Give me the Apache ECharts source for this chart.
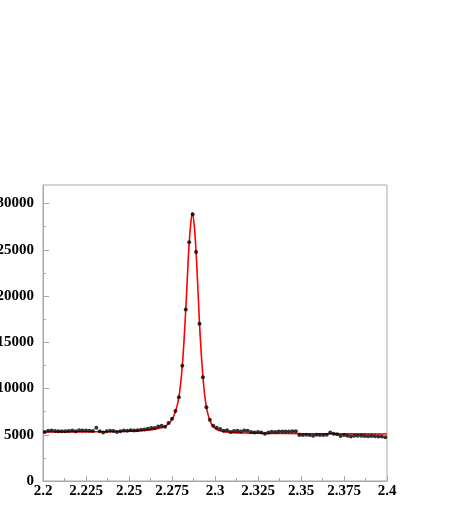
<!DOCTYPE html>
<html>
<head>
<meta charset="utf-8">
<style>
  html, body { margin: 0; padding: 0; background: #fff; }
  #chart { width: 463px; height: 518px; }
</style>
<script src="https://cdn.jsdelivr.net/npm/echarts@6/dist/echarts.min.js"></script>
</head>
<body>
<div id="chart"></div>
<script>
// bin centres of the histogram (width 0.002)
const binCenters = [
  2.201, 2.203, 2.205, 2.207, 2.209, 2.211, 2.213, 2.215, 2.217, 2.219,
  2.221, 2.223, 2.225, 2.227, 2.229, 2.231, 2.233, 2.235, 2.237, 2.239,
  2.241, 2.243, 2.245, 2.247, 2.249, 2.251, 2.253, 2.255, 2.257, 2.259,
  2.261, 2.263, 2.265, 2.267, 2.269, 2.271, 2.273, 2.275, 2.277, 2.279,
  2.281, 2.283, 2.285, 2.287, 2.289, 2.291, 2.293, 2.295, 2.297, 2.299,
  2.301, 2.303, 2.305, 2.307, 2.309, 2.311, 2.313, 2.315, 2.317, 2.319,
  2.321, 2.323, 2.325, 2.327, 2.329, 2.331, 2.333, 2.335, 2.337, 2.339,
  2.341, 2.343, 2.345, 2.347, 2.349, 2.351, 2.353, 2.355, 2.357, 2.359,
  2.361, 2.363, 2.365, 2.367, 2.369, 2.371, 2.373, 2.375, 2.377, 2.379,
  2.381, 2.383, 2.385, 2.387, 2.389, 2.391, 2.393, 2.395, 2.397, 2.399
]
const counts = [
  5300, 5420, 5460, 5400, 5380, 5390, 5370, 5400, 5450, 5380,
  5480, 5460, 5450, 5430, 5410, 5750, 5380, 5250, 5380, 5420,
  5400, 5290, 5370, 5450, 5420, 5480, 5450, 5500, 5530, 5560,
  5640, 5720, 5720, 5900, 5970, 5860, 6260, 6720, 7570, 9060,
  12450, 18545, 25800, 28850, 24750, 16990, 11220, 7985, 6615, 5970,
  5750, 5610, 5430, 5500, 5290, 5400, 5430, 5360, 5460, 5430,
  5290, 5250, 5290, 5250, 5110, 5250, 5320, 5300, 5350, 5340,
  5360, 5350, 5380, 5390, 4980, 4960, 5000, 4980, 4900, 4990,
  4970, 4960, 5000, 5250, 5120, 5050, 4870, 4960, 4900, 4820,
  4900, 4880, 4880, 4870, 4850, 4860, 4840, 4820, 4810, 4730
]

// fit curve
const fitX = [
  2.200, 2.210, 2.220, 2.230, 2.240, 2.250, 2.255, 2.260, 2.265, 2.268,
  2.270, 2.272, 2.274, 2.275, 2.276, 2.277, 2.278, 2.279, 2.280, 2.281,
  2.282, 2.283, 2.284, 2.285, 2.286, 2.2868, 2.288, 2.289, 2.290, 2.291,
  2.292, 2.293, 2.294, 2.295, 2.296, 2.297, 2.298, 2.299, 2.300, 2.302,
  2.305, 2.310, 2.320, 2.330, 2.350, 2.375, 2.400
]
const fitY = [
  5300, 5300, 5310, 5320, 5340, 5380, 5420, 5480, 5600, 5720,
  5800, 6050, 6400, 6650, 7000, 7550, 8150, 9060, 10500, 12470,
  15200, 18545, 22300, 25800, 28000, 29000, 27500, 24750, 21000, 16990,
  13800, 11220, 9300, 7985, 7150, 6615, 6150, 5900, 5700, 5480,
  5330, 5230, 5180, 5150, 5120, 5100, 5080
]

const yMajorTicks = [0, 5000, 10000, 15000, 20000, 25000, 30000]
const yMinorTicks = [2500, 7500, 12500, 17500, 22500, 27500]

const axisGrey = '#a8a8a8'
const labelFont = {
  fontFamily: 'Liberation Serif',
  fontWeight: 'bold',
  fontSize: 15,
  color: '#000'
}

const chart = echarts.init(document.getElementById('chart'), null, { renderer: 'canvas' })

chart.setOption({
  animation: false,
  backgroundColor: '#fff',
  grid: {
    left: 43,
    top: 185,
    right: 76,
    bottom: 37,
    containLabel: false,
    outerBoundsMode: 'none',
    show: true,
    borderColor: axisGrey,
    borderWidth: 1,
    backgroundColor: 'transparent'
  },
  xAxis: {
    type: 'value',
    min: 2.2,
    max: 2.4,
    interval: 0.025,
    axisLine: { show: true, lineStyle: { color: axisGrey, width: 1 } },
    axisTick: { show: true, inside: true, length: 5, lineStyle: { color: axisGrey } },
    minorTick: { show: true, splitNumber: 2, length: 3, lineStyle: { color: axisGrey } },
    splitLine: { show: false },
    axisLabel: {
      ...labelFont,
      margin: 3,
      formatter: v => String(+v.toFixed(3))
    }
  },
  yAxis: [
    {
      type: 'value',
      min: 0,
      max: 32000,
      axisLine: { show: true, lineStyle: { color: axisGrey, width: 1 } },
      axisTick: {
        show: true, inside: true, length: 6,
        customValues: yMajorTicks,
        lineStyle: { color: axisGrey }
      },
      splitLine: { show: false },
      axisLabel: {
        ...labelFont,
        margin: 9,
        customValues: yMajorTicks,
        formatter: v => String(v)
      }
    },
    {
      type: 'value',
      min: 0,
      max: 32000,
      position: 'left',
      axisLine: { show: false },
      axisTick: {
        show: true, inside: true, length: 3,
        customValues: yMinorTicks,
        lineStyle: { color: axisGrey }
      },
      splitLine: { show: false },
      axisLabel: { show: false }
    }
  ],
  series: [
    {
      name: 'fit',
      type: 'line',
      data: fitX.map((x, i) => [x, fitY[i]]),
      smooth: 0.3,
      symbol: 'none',
      lineStyle: { color: '#ff0000', width: 1.6 },
      z: 2
    },
    {
      name: 'data',
      type: 'scatter',
      data: binCenters.map((x, i) => [x, counts[i]]),
      symbol: 'circle',
      symbolSize: 4,
      itemStyle: { color: '#000' },
      z: 3
    }
  ]
})
</script>
</body>
</html>
